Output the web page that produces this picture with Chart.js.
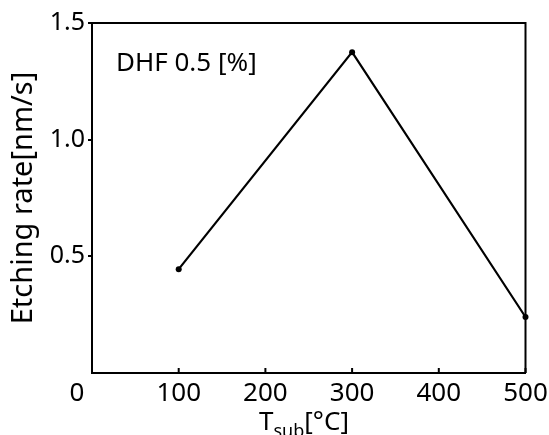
<!DOCTYPE html>
<html>
<head>
<meta charset="utf-8">
<script src="https://cdn.jsdelivr.net/npm/chart.js@4.4.1/dist/chart.umd.min.js"></script>
<style>
  html, body { margin:0; padding:0; background:#fff; }
  #wrap { width:549px; height:435px; }
</style>
</head>
<body>
<div id="wrap"><canvas id="grafico"></canvas></div>
<script>
// ===============================
// DADOS
// ===============================
const temperaturas = [100, 300, 500];      // T_sub [°C]
const taxas = [0.445, 1.375, 0.24];        // Etching rate [nm/s]
const ticksX = [0, 100, 200, 300, 400, 500];
const ticksY = [0, 0.5, 1.0, 1.5];
const legenda = "DHF 0.5 [%]";

const FONTE = "'Noto Sans', 'Open Sans', sans-serif";

// ===============================
// PLUGIN: moldura, ticks internos, títulos
// ===============================
const extras = {
  id: "extras",
  afterDraw(chart){
    const {ctx, chartArea:a, scales:{x, y}} = chart;
    ctx.save();

    // moldura (topo e direita)
    ctx.strokeStyle = "#000";
    ctx.lineWidth = 2;
    ctx.beginPath();
    ctx.moveTo(a.left, a.top);
    ctx.lineTo(a.right, a.top);
    ctx.lineTo(a.right, a.bottom);
    ctx.stroke();

    // ticks do eixo x para dentro
    ctx.beginPath();
    ticksX.forEach(v => {
      const px = x.getPixelForValue(v);
      ctx.moveTo(px, a.bottom);
      ctx.lineTo(px, a.bottom - 5);
    });
    ctx.stroke();

    ctx.fillStyle = "#000";

    // "0" do eixo x, deslocado à esquerda
    ctx.font = "26px " + FONTE;
    ctx.textAlign = "center";
    ctx.textBaseline = "alphabetic";
    ctx.fillText("0", x.getPixelForValue(0) - 15, 401);

    // legenda
    ctx.font = "26px " + FONTE;
    ctx.textAlign = "left";
    ctx.fillText(legenda, a.left + 24, 71);

    // título x com subscrito
    const partes = [
      {t:"T", f:"26px " + FONTE, dy:0},
      {t:"sub", f:"18px " + FONTE, dy:7},
      {t:"[°C]", f:"26px " + FONTE, dy:0}
    ];
    let largura = 0;
    partes.forEach(p => { ctx.font = p.f; p.w = ctx.measureText(p.t).width; largura += p.w; });
    let cx = 304 - largura / 2;
    partes.forEach(p => {
      ctx.font = p.f;
      ctx.fillText(p.t, cx, 430 + p.dy);
      cx += p.w;
    });

    ctx.restore();
  }
};

// ===============================
// GRÁFICO
// ===============================
function criarGrafico(){
  const ctx = document.getElementById("grafico");

  new Chart(ctx, {
    type: "line",
    data: {
      datasets: [{
        data: temperaturas.map((t, i) => ({x:t, y:taxas[i]})),
        borderColor: "#000",
        backgroundColor: "#000",
        borderWidth: 2.2,
        pointRadius: 3,
        pointHoverRadius: 3,
        pointBackgroundColor: "#000",
        pointBorderWidth: 0,
        tension: 0,
        fill: false,
        clip: false
      }]
    },
    options: {
      responsive: true,
      maintainAspectRatio: false,
      animation: false,
      events: [],
      layout: { padding: { left:0, right:23.5, top:23, bottom:0 } },
      plugins: {
        legend: { display:false },
        tooltip: { enabled:false }
      },
      scales: {
        x: {
          type: "linear",
          min: 0, max: 500,
          afterBuildTicks: s => { s.ticks = ticksX.map(v => ({value:v})); },
          afterFit: s => { s.height = 62; s.paddingLeft = 0; s.paddingRight = 0; },
          grid: { display:false },
          border: { display:true, color:"#000", width:2 },
          ticks: {
            color: "#000",
            font: { family:FONTE, size:26, lineHeight:1 },
            padding: 0,
            maxRotation: 0,
            callback: v => v === 0 ? "" : v
          }
        },
        y: {
          type: "linear",
          min: 0, max: 1.5,
          afterBuildTicks: s => { s.ticks = ticksY.map(v => ({value:v})); },
          afterFit: s => { s.width = 92; s.paddingTop = 0; s.paddingBottom = 0; },
          grid: {
            drawOnChartArea: false,
            drawTicks: true,
            tickLength: 4,
            lineWidth: 2,
            color: c => (c.tick && c.tick.value === 0) ? "rgba(0,0,0,0)" : "#000"
          },
          border: { display:true, color:"#000", width:2 },
          ticks: {
            color: "#000",
            font: { family:FONTE, size:25 },
            padding: 3,
            callback: v => v === 0 ? "" : v.toFixed(1)
          },
          title: {
            display: true,
            text: "Etching rate[nm/s]",
            color: "#000",
            font: { family:FONTE, size:29 },
            padding: { top:6, bottom:0 }
          }
        }
      }
    },
    plugins: [extras]
  });
}

document.addEventListener("DOMContentLoaded", criarGrafico);
</script>
</body>
</html>
